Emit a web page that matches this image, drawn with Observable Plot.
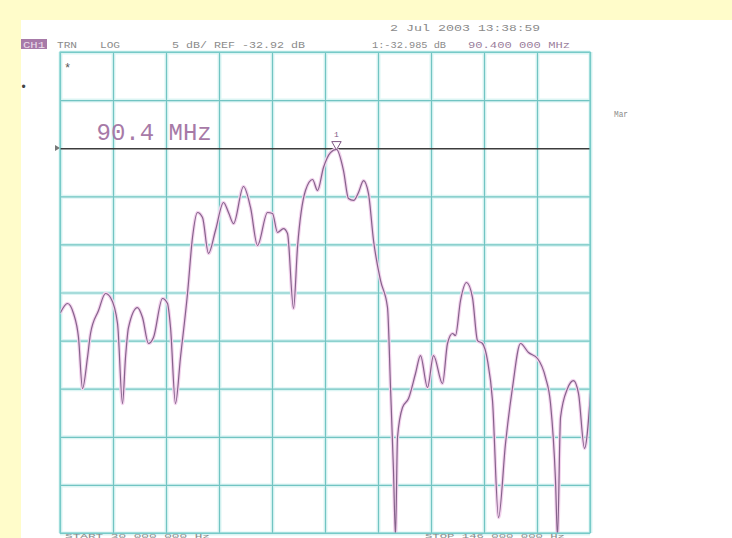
<!DOCTYPE html>
<html>
<head>
<meta charset="utf-8">
<script src="https://cdn.jsdelivr.net/npm/d3@7"></script>
<script src="https://cdn.jsdelivr.net/npm/@observablehq/plot@0.6"></script>
<style>
  html, body { margin: 0; padding: 0; background: #fffcca; width: 732px; height: 538px; overflow: hidden; }
  #paper { position: absolute; left: 21px; top: 20px; width: 711px; height: 518px; background: #ffffff; }
  #chart { position: absolute; left: 0; top: 0; }
</style>
</head>
<body>
<div id="paper"></div>
<div id="chart"></div>
<script>
// Sweep settings
const startMHz = 30;
const stopMHz = 146;
const refLevelDb = -32.92;
const dbPerDiv = 5;
const markerMHz = 90.4;
const markerDb = -32.985;

// Trace
const freqMHz = [30.0, 31.53, 32.85, 33.94, 34.82, 35.91, 36.57, 38.32, 39.85, 40.94,
  42.48, 43.57, 44.23, 44.88, 46.85, 47.95, 49.26, 50.35, 52.32, 53.42,
  54.08, 55.17, 56.26, 57.80, 58.89, 59.98, 61.08, 62.39, 63.92, 65.68,
  66.77, 67.87, 70.05, 71.59, 73.12, 75.31, 76.40, 77.50, 78.81, 79.68,
  81.00, 81.87, 83.62, 85.16, 86.25, 87.56, 89.09, 90.40, 91.94, 93.03,
  94.13, 95.22, 96.32, 97.41, 98.51, 100.04, 101.57, 102.23, 102.88, 103.32,
  103.76, 104.85, 106.17, 107.70, 108.79, 110.33, 111.64, 113.61, 114.70, 115.80,
  116.45, 117.55, 118.86, 120.17, 121.27, 122.36, 123.46, 124.55, 125.87, 127.40,
  128.93, 130.68, 132.43, 134.40, 136.15, 137.25, 138.34, 138.78, 139.44, 140.97,
  142.28, 143.38, 144.69, 146.0];
const levelDb = [-49.95, -49.01, -50.05, -52.55, -57.85, -54.62, -52.13, -49.74, -47.97, -48.39,
  -51.09, -59.41, -54.62, -51.51, -49.43, -50.47, -53.17, -52.55, -48.49, -49.01,
  -51.51, -59.41, -54.62, -47.97, -42.15, -39.55, -40.07, -43.81, -41.42, -38.51,
  -39.55, -40.70, -36.85, -39.03, -42.98, -39.55, -39.66, -41.63, -41.22, -41.73,
  -49.53, -43.19, -37.27, -36.12, -37.27, -34.87, -33.32, -32.985, -35.19, -38.10,
  -38.30, -37.47, -36.23, -37.58, -42.46, -46.62, -49.43, -57.74, -66.37, -73.2,
  -62.94, -59.82, -58.89, -56.29, -54.42, -57.74, -54.42, -57.33, -53.17, -52.13,
  -52.34, -48.70, -46.83, -48.39, -52.86, -53.17, -54.94, -59.09, -71.26, -63.56,
  -57.74, -53.17, -54.11, -54.73, -56.70, -59.41, -67.41, -73.3, -60.86, -57.85,
  -57.02, -58.37, -64.08, -58.37];

// Header / annotation texts
const channelLabel = "CH1";
const headerLeft = ["TRN", "LOG", "5 dB/ REF -32.92 dB"];
const headerDate = ["2 Jul 2003", "13:38:59"];
const headerMarker = ["1:-32.985 dB", "90.400 000 MHz"];
const markerLabel = "90.4 MHz";
const startLabel = "START 30 000 000 Hz";
const stopLabel = "STOP 146 000 000 Hz";
const sideLabel = "Mar";

const topDb = refLevelDb + 2 * dbPerDiv;
const bottomDb = refLevelDb - 8 * dbPerDiv;
const xTicks = d3.range(11).map(i => startMHz + i * (stopMHz - startMHz) / 10);
const yTicks = d3.range(11).map(i => bottomDb + i * dbPerDiv).filter(v => Math.abs(v - refLevelDb) > 0.01);
const trace = freqMHz.map((f, i) => ({f, db: levelDb[i]}));

const svg = Plot.plot({
  width: 732,
  height: 538,
  marginLeft: 60,
  marginRight: 142,
  marginTop: 52,
  marginBottom: 5,
  x: {domain: [startMHz, stopMHz], axis: null},
  y: {domain: [bottomDb, topDb], axis: null},
  style: {background: "transparent", overflow: "visible"},
  marks: [
    Plot.ruleX(xTicks, {stroke: "#dcf5f4", strokeWidth: 4}),
    Plot.ruleY(yTicks, {stroke: "#dcf5f4", strokeWidth: 4}),
    Plot.ruleX(xTicks, {stroke: "#72c4c2", strokeWidth: 1.2}),
    Plot.ruleY(yTicks, {stroke: "#72c4c2", strokeWidth: 1.2}),
    Plot.ruleY([refLevelDb], {stroke: "#3c3c3c", strokeWidth: 1.4}),
    Plot.line(trace, {x: "f", y: "db", stroke: "#f3d3ee", strokeWidth: 3.5, curve: "monotone-x", clip: true}),
    Plot.line(trace, {x: "f", y: "db", stroke: "#85638b", strokeWidth: 1.2, curve: "monotone-x", clip: true}),
    Plot.dot([{f: markerMHz, db: markerDb}], {x: "f", y: "db", symbol: "triangle", rotate: 180, r: 3.5, dy: -5, stroke: "#7e5884", fill: "white", strokeWidth: 1}),
    Plot.text([{f: markerMHz, db: markerDb}], {x: "f", y: "db", text: () => "1", dy: -15, fontSize: 8, fill: "#7e5884", fontFamily: "Liberation Mono"}),
    Plot.text([markerLabel], {frameAnchor: "top-left", text: d => d, dx: 36, dy: 70, fontSize: 24, fill: "#a77aa7", fontFamily: "Liberation Mono", textAnchor: "start"})
  ]
});

const g = d3.select(svg).append("g")
  .attr("font-family", "Liberation Mono")
  .attr("font-size", 9)
  .attr("text-anchor", "start")
  .attr("fill", "#8a8a8a");

function t(txt, x, y, len, color) {
  const el = g.append("text").attr("x", x).attr("y", y).text(txt);
  if (len) el.attr("textLength", len).attr("lengthAdjust", "spacingAndGlyphs");
  if (color) el.attr("fill", color);
  return el;
}

g.append("rect").attr("x", 21).attr("y", 39).attr("width", 26).attr("height", 10).attr("fill", "#a77aa8");
t(channelLabel, 23, 47.5, 22, "#eadcea");
t(headerLeft[0], 57, 47.5, 20);
t(headerLeft[1], 100, 47.5, 20);
t(headerLeft[2], 172, 47.5, 133);
t(headerDate[0], 390, 30.5, 80);
t(headerDate[1], 478, 30.5, 62);
t(headerMarker[0], 372, 47.5, 74);
t(headerMarker[1], 468, 47.5, 102, "#9a7e9c");
t(sideLabel, 614, 117, 14);
t("*", 64, 72, null, "#555").attr("font-size", 12);
t("\u2022", 20, 91, null, "#444").attr("font-size", 12);
// reference indicator
g.append("path").attr("d", "M55,145 L60,148 L55,151 Z").attr("fill", "#777");
// frame
g.append("rect").attr("x", 60).attr("y", 52).attr("width", 530).attr("height", 481)
  .attr("fill", "none").attr("stroke", "#7ccfcc").attr("stroke-width", 1.2);
// bottom labels
t(startLabel, 65, 537.5, 145).attr("font-size", 6);
t(stopLabel, 425, 537.5, 140).attr("font-size", 6);

document.getElementById("chart").appendChild(svg);
</script>
</body>
</html>
